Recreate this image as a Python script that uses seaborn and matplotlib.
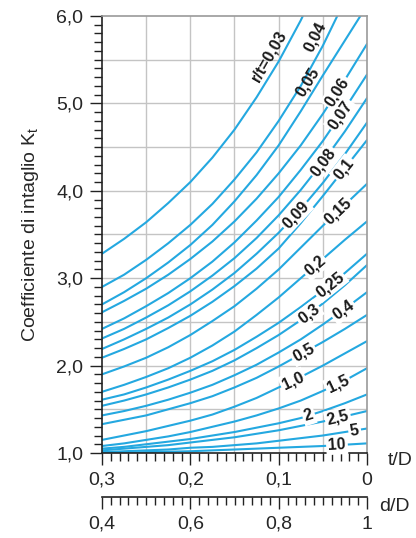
import numpy as np
import pandas as pd
import matplotlib
matplotlib.use('Agg')
import matplotlib.pyplot as plt
from matplotlib.ticker import FixedLocator
import seaborn as sns

# t/D positions where Kt was read (from 0.3 at the left to 0 at the right)
t_grid = [0.300, 0.275, 0.250, 0.225, 0.200, 0.175, 0.150,
          0.125, 0.100, 0.075, 0.050, 0.025, 0.000]

# Kt at t_grid (values above 6 leave the frame)
kt_003 = [3.28, 3.45, 3.64, 3.86, 4.10, 4.38, 4.70, 5.07, 5.48, 5.95, 6.48, 7.09, 7.76]
kt_004 = [2.90, 3.04, 3.21, 3.40, 3.61, 3.85, 4.13, 4.44, 4.80, 5.20, 5.66, 6.18, 6.76]
kt_005 = [2.70, 2.84, 3.00, 3.18, 3.38, 3.61, 3.88, 4.18, 4.52, 4.91, 5.32, 5.72, 6.12]
kt_006 = [2.61, 2.74, 2.88, 3.04, 3.22, 3.42, 3.65, 3.91, 4.20, 4.52, 4.88, 5.27, 5.68]
kt_007 = [2.42, 2.54, 2.68, 2.83, 3.00, 3.19, 3.41, 3.66, 3.93, 4.24, 4.57, 4.94, 5.33]
kt_008 = [2.31, 2.42, 2.55, 2.69, 2.85, 3.03, 3.23, 3.46, 3.72, 4.01, 4.33, 4.68, 5.06]
kt_009 = [2.19, 2.30, 2.42, 2.55, 2.70, 2.87, 3.06, 3.28, 3.52, 3.79, 4.09, 4.42, 4.78]
kt_010 = [2.09, 2.19, 2.30, 2.43, 2.57, 2.73, 2.91, 3.11, 3.34, 3.63, 3.94, 4.26, 4.58]
kt_015 = [1.90, 1.99, 2.09, 2.21, 2.35, 2.51, 2.68, 2.88, 3.10, 3.35, 3.60, 3.84, 4.08]
kt_020 = [1.70, 1.78, 1.87, 1.97, 2.09, 2.23, 2.39, 2.58, 2.78, 3.00, 3.22, 3.44, 3.65]
kt_025 = [1.61, 1.67, 1.75, 1.84, 1.94, 2.05, 2.18, 2.33, 2.49, 2.67, 2.86, 3.06, 3.28]
kt_030 = [1.54, 1.60, 1.67, 1.75, 1.84, 1.94, 2.06, 2.20, 2.35, 2.52, 2.71, 2.92, 3.15]
kt_040 = [1.43, 1.48, 1.54, 1.61, 1.69, 1.78, 1.89, 2.01, 2.15, 2.30, 2.47, 2.65, 2.84]
kt_050 = [1.33, 1.38, 1.43, 1.50, 1.57, 1.65, 1.75, 1.86, 1.99, 2.13, 2.27, 2.42, 2.58]
kt_100 = [1.15, 1.20, 1.25, 1.31, 1.37, 1.44, 1.53, 1.63, 1.75, 1.87, 2.00, 2.14, 2.28]
kt_150 = [1.08, 1.11, 1.15, 1.19, 1.24, 1.30, 1.36, 1.43, 1.51, 1.60, 1.71, 1.83, 1.97]
kt_200 = [1.05, 1.07, 1.10, 1.13, 1.16, 1.20, 1.24, 1.29, 1.34, 1.40, 1.48, 1.57, 1.67]
kt_250 = [1.03, 1.05, 1.07, 1.09, 1.12, 1.15, 1.18, 1.22, 1.26, 1.31, 1.36, 1.42, 1.48]
kt_500 = [1.01, 1.02, 1.03, 1.04, 1.06, 1.07, 1.09, 1.11, 1.14, 1.17, 1.20, 1.24, 1.28]
kt_1000 = [1.00, 1.005, 1.01, 1.015, 1.02, 1.03, 1.04, 1.05, 1.06, 1.07, 1.08, 1.095, 1.11]

curve_labels = ['r/t=0,03', '0,04', '0,05', '0,06', '0,07', '0,08', '0,09', '0,1',
                '0,15', '0,2', '0,25', '0,3', '0,4', '0,5', '1,0', '1,5', '2', '2,5',
                '5', '10']
curve_values = [kt_003, kt_004, kt_005, kt_006, kt_007, kt_008, kt_009, kt_010,
                kt_015, kt_020, kt_025, kt_030, kt_040, kt_050, kt_100, kt_150,
                kt_200, kt_250, kt_500, kt_1000]

# axis tick values and their printed labels
td_ticks = [0.3, 0.2, 0.1, 0.0]
td_labels = ['0,3', '0,2', '0,1', '0']
dd_ticks = [0.4, 0.6, 0.8, 1.0]
dd_labels = ['0,4', '0,6', '0,8', '1']
kt_ticks = [1.0, 2.0, 3.0, 4.0, 5.0, 6.0]
kt_labels = ['1,0', '2,0', '3,0', '4,0', '5,0', '6,0']

# where each label sits along its curve (t/D), and sideways shift in px
label_t = [0.100, 0.048, 0.058, 0.034, 0.030, 0.050, 0.081, 0.026, 0.033, 0.059,
           0.042, 0.066, 0.027, 0.072, 0.084, 0.033, 0.066, 0.033, 0.014, 0.034]
label_shift = [11, 11, 10] + [0] * 17

rows = []
for name, vals in zip(curve_labels, curve_values):
    for t, k in zip(t_grid, vals):
        rows.append({'curve': name, 't': t, 'Kt': k})
df = pd.DataFrame(rows)

sns.set_style('white')
plt.rcParams['font.family'] = ['Liberation Sans', 'DejaVu Sans']
plt.rcParams['mathtext.fontset'] = 'custom'
plt.rcParams['mathtext.rm'] = 'Liberation Sans'

blue = '#24A8E0'
dark = '#222222'
fig = plt.figure(figsize=(4.16, 5.38), dpi=100)
ax = fig.add_axes([102 / 416, 1 - 453 / 538, 265 / 416, 437 / 538])

# grid first so curves sit above it
for x in np.arange(0.05, 0.3, 0.05):
    ax.axvline(x, color='#C4C4C4', lw=1.0, zorder=0)
for y in np.arange(1.5, 6.0, 0.5):
    ax.axhline(y, color='#C4C4C4', lw=1.0, zorder=0)

sns.lineplot(data=df, x='t', y='Kt', hue='curve', palette=[blue] * len(curve_labels),
             legend=False, errorbar=None, lw=1.5, ax=ax)

ax.set_xlim(0.3, 0.0)
ax.set_ylim(1.0, 6.0)
ax.set_xlabel('')
ax.set_ylabel('Coefficiente di intaglio K$_{\\mathregular{t}}$', fontsize=14)
ax.yaxis.set_label_coords(-0.232, 0.5)

ax.set_xticks(td_ticks, td_labels)
ax.xaxis.set_minor_locator(FixedLocator(np.linspace(0.0, 0.3, 31)))
ax.set_yticks(kt_ticks, kt_labels)
ax.yaxis.set_minor_locator(FixedLocator(np.linspace(1.0, 6.0, 51)))
ax.tick_params(which='major', length=8.5, width=1.0, color=dark, labelsize=14, pad=5)
ax.tick_params(which='minor', length=5.5, width=1.0, color=dark)
ax.tick_params(axis='x', which='both', bottom=True, top=False)
ax.tick_params(axis='y', which='both', left=True, right=False)

for side in ['left', 'bottom']:
    ax.spines[side].set_color(dark)
    ax.spines[side].set_linewidth(1.2)
for side in ['top', 'right']:
    ax.spines[side].set_color('#9A9A9A')
    ax.spines[side].set_linewidth(1.2)

# second scale d/D = 1 - 2 t/D
sec = ax.secondary_xaxis(-0.1007, functions=(lambda x: 1 - 2 * x, lambda d: (1 - d) / 2))
sec.set_xticks(dd_ticks, dd_labels)
sec.xaxis.set_minor_locator(FixedLocator(np.linspace(0.4, 1.0, 31)))
sec.tick_params(which='major', length=8.5, width=1.0, color=dark, labelsize=14, pad=5)
sec.tick_params(which='minor', length=5.5, width=1.0, color=dark)
sec.spines['bottom'].set_color(dark)
sec.spines['bottom'].set_linewidth(1.2)

ax.text(1.077, -0.017, 't/D', transform=ax.transAxes, fontsize=14, ha='left', va='center')
ax.text(1.045, -0.122, 'd/D', transform=ax.transAxes, fontsize=14, ha='left', va='center')

# curve labels, rotated along each curve
tg = np.array(t_grid[::-1])
for name, vals, t0, shift in zip(curve_labels, curve_values, label_t, label_shift):
    kv = np.array(vals[::-1])
    k0 = np.interp(t0, tg, kv)
    p1 = ax.transData.transform((t0 + 0.004, np.interp(t0 + 0.004, tg, kv)))
    p2 = ax.transData.transform((t0 - 0.004, np.interp(t0 - 0.004, tg, kv)))
    ang = np.degrees(np.arctan2(p2[1] - p1[1], p2[0] - p1[0]))
    a = np.radians(ang)
    dx, dy = -np.sin(a) * shift * 0.72, np.cos(a) * shift * 0.72
    box = None if shift else dict(boxstyle='square,pad=0.12', fc='white', ec='none')
    ax.annotate(name, (t0, k0), xytext=(dx, dy), textcoords='offset points',
                rotation=ang, rotation_mode='anchor', ha='center', va='center',
                fontsize=11.5, fontweight='bold', color='#1A1A1A', bbox=box, zorder=5)

plt.savefig('out.png', dpi=100)
